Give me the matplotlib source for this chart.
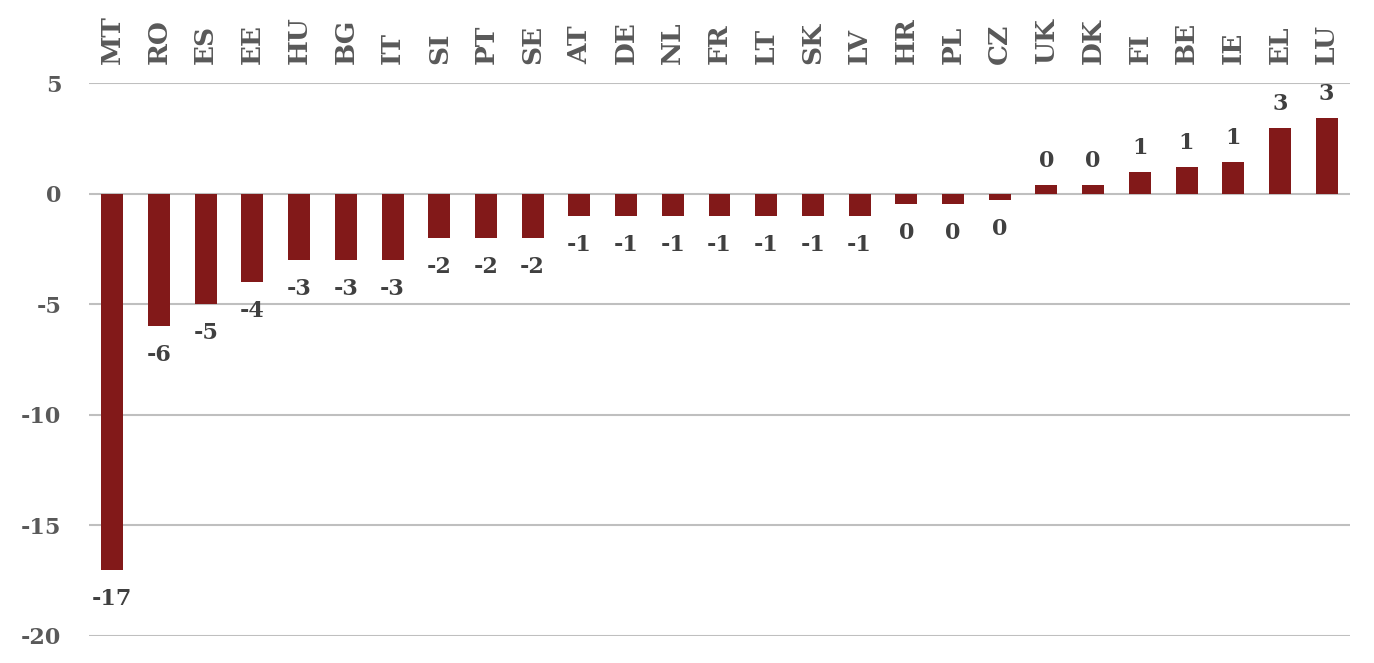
import numpy as np
import matplotlib.pyplot as plt

# Datos
countries = ['MT', 'RO', 'ES', 'EE', 'HU', 'BG', 'IT', 'SI', 'PT', 'SE', 'AT', 'DE', 'NL', 'FR',
             'LT', 'SK', 'LV', 'HR', 'PL', 'CZ', 'UK', 'DK', 'FI', 'BE', 'IE', 'EL', 'LU']
values = [-17.0, -6.0, -5.0, -4.0, -3.0, -3.0, -3.0, -2.0, -2.0, -2.0, -1.0, -1.0, -1.0, -1.0,
          -1.0, -1.0, -1.0, -0.45, -0.45, -0.27, 0.39, 0.39, 0.98, 1.22, 1.43, 2.97, 3.42]
yticks = [5, 0, -5, -10, -15, -20]

bar_color = '#821919'
font = 'DejaVu Serif'

fig = plt.figure(figsize=(13.74, 6.63), dpi=100)
ax = fig.add_axes([89/1374, 1 - 636/663, (1350 - 89)/1374, (636 - 83)/663])

x = np.arange(len(countries))
v = np.array(values)
neg = v < 0

# Barras negativas y positivas por separado (distinto espaciado de etiqueta)
b_neg = ax.bar(x[neg], v[neg], width=0.47, color=bar_color, zorder=3)
b_pos = ax.bar(x[~neg], v[~neg], width=0.47, color=bar_color, zorder=3)

lbl = dict(fontsize=16, fontweight='bold', family=font, color='#404040')
ax.bar_label(b_neg, labels=[str(int(round(a))) for a in v[neg]], padding=13, **lbl)
ax.bar_label(b_pos, labels=[str(int(round(a))) for a in v[~neg]], padding=9, **lbl)

ax.set_xlim(-0.5, len(countries) - 0.5)
ax.set_ylim(-20, 5)
ax.set_yticks(yticks)
ax.set_yticklabels([str(t) for t in yticks], fontsize=16, fontweight='bold',
                   family=font, color='#595959')
ax.yaxis.grid(True, color='#BFBFBF', lw=1.5, zorder=0)
ax.tick_params(axis='y', length=0, pad=20)

# Países arriba, rotados
ax.xaxis.tick_top()
ax.set_xticks(x)
ax.set_xticklabels(countries, rotation=90, fontsize=19, fontweight='bold',
                   family=font, color='#595959')
ax.tick_params(axis='x', length=0, pad=14)

for s in ax.spines.values():
    s.set_visible(False)

plt.savefig('out.png', dpi=100)
